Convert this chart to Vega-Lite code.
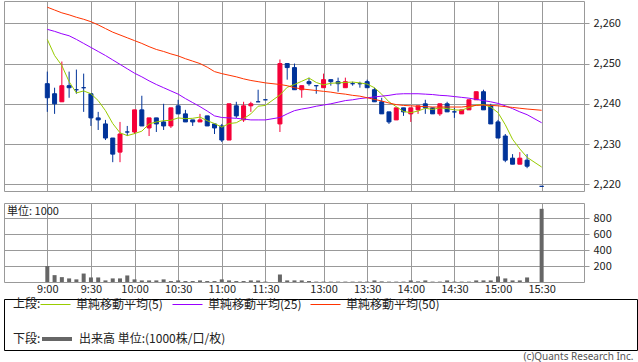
{
  "$schema": "https://vega.github.io/schema/vega-lite/v6.json",
  "padding": {"left": 3, "top": 0, "right": 0, "bottom": 0},
  "background": "white",
  "config": {
    "font": "Noto Sans CJK JP",
    "view": {"stroke": "#999999", "strokeWidth": 1},
    "axis": {"labelFont": "Noto Sans CJK JP", "labelFontSize": 11, "labelColor": "#222222", "gridColor": "#999999", "gridWidth": 1, "gridOpacity": 1, "tickColor": "#999999", "domain": false, "title": null},
    "legend": {"padding": 0, "labelFont": "Noto Sans CJK JP", "titleFont": "Noto Sans CJK JP", "labelFontSize": 12, "titleFontSize": 12, "titleFontWeight": "normal", "labelColor": "#222222", "titleColor": "#222222"}
  },
  "datasets": {
    "bars": [
      {"i":0,"t":"9:00","o":2245,"h":2248,"l":2238,"c":2241.5,"v":200,"m5":2256,"m25":2258.5,"m50":2264},
      {"i":1,"t":"9:05","o":2242.5,"h":2244,"l":2237.5,"c":2240,"v":86,"m5":2252,"m25":2258.0,"m50":2263.3},
      {"i":2,"t":"9:10","o":2240.5,"h":2250.5,"l":2240.5,"c":2244.5,"v":61,"m5":2249.5,"m25":2257.4,"m50":2262.6},
      {"i":3,"t":"9:15","o":2244.5,"h":2248,"l":2241.5,"c":2244,"v":45,"m5":2245.5,"m25":2256.9,"m50":2262.1},
      {"i":4,"t":"9:20","o":2243.5,"h":2248.5,"l":2242.5,"c":2243.5,"v":33,"m5":2242.7,"m25":2256.0,"m50":2261.5},
      {"i":5,"t":"9:25","o":2244,"h":2247.5,"l":2238,"c":2244,"v":106,"m5":2243.2,"m25":2255.0,"m50":2261.0},
      {"i":6,"t":"9:30","o":2242.5,"h":2242.5,"l":2234.5,"c":2236.5,"v":57,"m5":2242.5,"m25":2254.0,"m50":2260.4},
      {"i":7,"t":"9:35","o":2236.5,"h":2238,"l":2233.5,"c":2236,"v":57,"m5":2240.8,"m25":2253.0,"m50":2259.6},
      {"i":8,"t":"9:40","o":2235,"h":2236,"l":2231,"c":2231.5,"v":20,"m5":2238.3,"m25":2252.0,"m50":2258.7},
      {"i":9,"t":"9:45","o":2231.5,"h":2231.5,"l":2225.5,"c":2227.5,"v":45,"m5":2235.1,"m25":2250.9,"m50":2257.8},
      {"i":10,"t":"9:50","o":2228,"h":2235.5,"l":2225.5,"c":2232.5,"v":45,"m5":2232.8,"m25":2249.8,"m50":2257.1},
      {"i":11,"t":"9:55","o":2233,"h":2234.5,"l":2232,"c":2233,"v":82,"m5":2232.1,"m25":2248.7,"m50":2256.4},
      {"i":12,"t":"10:00","o":2233,"h":2238.5,"l":2232.5,"c":2238.5,"v":33,"m5":2232.6,"m25":2247.6,"m50":2255.7},
      {"i":13,"t":"10:05","o":2238.5,"h":2242,"l":2234.5,"c":2234.5,"v":20,"m5":2233.2,"m25":2246.7,"m50":2255.0},
      {"i":14,"t":"10:10","o":2234,"h":2236.5,"l":2232,"c":2236.5,"v":20,"m5":2235.0,"m25":2245.7,"m50":2254.2},
      {"i":15,"t":"10:15","o":2236.5,"h":2236.5,"l":2233,"c":2235,"v":20,"m5":2235.5,"m25":2244.8,"m50":2253.5},
      {"i":16,"t":"10:20","o":2235.5,"h":2240,"l":2233.5,"c":2234.5,"v":33,"m5":2235.8,"m25":2244.0,"m50":2253.0},
      {"i":17,"t":"10:25","o":2234.5,"h":2239,"l":2234,"c":2239,"v":12,"m5":2235.9,"m25":2243.2,"m50":2252.4},
      {"i":18,"t":"10:30","o":2239.5,"h":2241,"l":2237.5,"c":2237.5,"v":20,"m5":2236.5,"m25":2242.4,"m50":2251.9},
      {"i":19,"t":"10:35","o":2237.5,"h":2238.5,"l":2235.5,"c":2235.5,"v":12,"m5":2236.3,"m25":2241.3,"m50":2251.2},
      {"i":20,"t":"10:40","o":2236,"h":2236,"l":2234.5,"c":2235.5,"v":12,"m5":2236.4,"m25":2240.3,"m50":2250.6},
      {"i":21,"t":"10:45","o":2235.5,"h":2237.5,"l":2235.5,"c":2236,"v":20,"m5":2236.7,"m25":2239.3,"m50":2250.0},
      {"i":22,"t":"10:50","o":2237,"h":2237,"l":2234.5,"c":2234.5,"v":12,"m5":2235.8,"m25":2238.2,"m50":2249.1},
      {"i":23,"t":"10:55","o":2235,"h":2235,"l":2232.5,"c":2234,"v":12,"m5":2235.1,"m25":2237.0,"m50":2248.0},
      {"i":24,"t":"11:00","o":2234.5,"h":2235,"l":2230.5,"c":2231,"v":33,"m5":2234.2,"m25":2236.6,"m50":2247.5},
      {"i":25,"t":"11:05","o":2231,"h":2240,"l":2231,"c":2240,"v":20,"m5":2235.1,"m25":2236.5,"m50":2247.1},
      {"i":26,"t":"11:10","o":2239.5,"h":2240.5,"l":2236.5,"c":2237,"v":12,"m5":2235.3,"m25":2236.4,"m50":2246.7},
      {"i":27,"t":"11:15","o":2236,"h":2240.5,"l":2235.5,"c":2239.5,"v":12,"m5":2236.3,"m25":2236.2,"m50":2246.2},
      {"i":28,"t":"11:20","o":2239.5,"h":2240.5,"l":2238,"c":2240,"v":20,"m5":2237.5,"m25":2236.0,"m50":2245.8},
      {"i":29,"t":"11:25","o":2240.5,"h":2243.5,"l":2240.5,"c":2240.5,"v":20,"m5":2239.4,"m25":2236.0,"m50":2245.5},
      {"i":30,"t":"11:30","o":2241,"h":2241,"l":2241,"c":2241,"v":5,"m5":2239.6,"m25":2236.0,"m50":2245.2},
      {"i":32,"t":"12:30","o":2235,"h":2251,"l":2233,"c":2250,"v":94,"m5":2242.2,"m25":2236.6,"m50":2244.8},
      {"i":33,"t":"12:35","o":2250,"h":2250,"l":2246,"c":2249,"v":20,"m5":2244.1,"m25":2237.5,"m50":2244.5},
      {"i":34,"t":"12:40","o":2249,"h":2250,"l":2243.5,"c":2243.5,"v":20,"m5":2244.8,"m25":2238.3,"m50":2244.0},
      {"i":35,"t":"12:45","o":2243.5,"h":2244.5,"l":2241.5,"c":2244.5,"v":20,"m5":2245.6,"m25":2238.7,"m50":2243.7},
      {"i":36,"t":"12:50","o":2245.5,"h":2246.5,"l":2244.5,"c":2245,"v":12,"m5":2246.4,"m25":2239.0,"m50":2243.5},
      {"i":37,"t":"12:55","o":2244.5,"h":2244.5,"l":2242.5,"c":2244.5,"v":5,"m5":2245.3,"m25":2239.4,"m50":2243.3},
      {"i":38,"t":"13:00","o":2244,"h":2247.5,"l":2244,"c":2246,"v":5,"m5":2244.7,"m25":2239.7,"m50":2243.1},
      {"i":39,"t":"13:05","o":2246,"h":2246,"l":2244.5,"c":2245.5,"v":5,"m5":2245.1,"m25":2240.0,"m50":2242.9},
      {"i":40,"t":"13:10","o":2245.5,"h":2246.5,"l":2243,"c":2245,"v":5,"m5":2245.2,"m25":2240.4,"m50":2242.6},
      {"i":41,"t":"13:15","o":2244,"h":2246.5,"l":2244,"c":2245.5,"v":5,"m5":2245.3,"m25":2240.8,"m50":2242.4},
      {"i":42,"t":"13:20","o":2245,"h":2245.5,"l":2244.5,"c":2245,"v":5,"m5":2245.4,"m25":2241.0,"m50":2242.1},
      {"i":43,"t":"13:25","o":2245,"h":2245.5,"l":2244,"c":2245,"v":5,"m5":2245.2,"m25":2241.3,"m50":2241.9},
      {"i":44,"t":"13:30","o":2245.5,"h":2246,"l":2244,"c":2244,"v":5,"m5":2244.9,"m25":2241.5,"m50":2241.5},
      {"i":45,"t":"13:35","o":2243.5,"h":2244,"l":2240.5,"c":2240.5,"v":20,"m5":2244.0,"m25":2241.7,"m50":2241.1},
      {"i":46,"t":"13:40","o":2240.5,"h":2241.5,"l":2237.5,"c":2237.5,"v":8,"m5":2242.4,"m25":2241.9,"m50":2240.7},
      {"i":47,"t":"13:45","o":2238,"h":2238,"l":2235,"c":2235.5,"v":5,"m5":2240.5,"m25":2242.1,"m50":2240.2},
      {"i":48,"t":"13:50","o":2236,"h":2239,"l":2236,"c":2239,"v":5,"m5":2239.3,"m25":2242.4,"m50":2239.8},
      {"i":49,"t":"13:55","o":2239,"h":2239,"l":2237,"c":2238,"v":5,"m5":2238.1,"m25":2242.5,"m50":2239.6},
      {"i":50,"t":"14:00","o":2237.5,"h":2239,"l":2235.5,"c":2239,"v":20,"m5":2237.8,"m25":2242.5,"m50":2239.5},
      {"i":51,"t":"14:05","o":2238.5,"h":2239.5,"l":2237.5,"c":2239.5,"v":8,"m5":2238.2,"m25":2242.5,"m50":2239.4},
      {"i":52,"t":"14:10","o":2240,"h":2241,"l":2237.5,"c":2239,"v":20,"m5":2238.9,"m25":2242.4,"m50":2239.3},
      {"i":53,"t":"14:15","o":2239,"h":2239,"l":2237.5,"c":2237.5,"v":5,"m5":2238.6,"m25":2242.3,"m50":2239.2},
      {"i":54,"t":"14:20","o":2237.5,"h":2240,"l":2237,"c":2240,"v":5,"m5":2239.0,"m25":2242.1,"m50":2239.2},
      {"i":55,"t":"14:25","o":2240,"h":2240.5,"l":2238,"c":2238,"v":20,"m5":2238.8,"m25":2242.0,"m50":2239.2},
      {"i":56,"t":"14:30","o":2238,"h":2239,"l":2236.5,"c":2238,"v":5,"m5":2238.5,"m25":2241.8,"m50":2239.2},
      {"i":57,"t":"14:35","o":2237.5,"h":2238.5,"l":2237.5,"c":2238.5,"v":5,"m5":2238.4,"m25":2241.6,"m50":2239.2},
      {"i":58,"t":"14:40","o":2238.5,"h":2241,"l":2238.5,"c":2241,"v":5,"m5":2239.1,"m25":2241.4,"m50":2239.4},
      {"i":59,"t":"14:45","o":2241,"h":2243,"l":2241,"c":2243,"v":20,"m5":2239.7,"m25":2241.1,"m50":2239.6},
      {"i":60,"t":"14:50","o":2243,"h":2243.5,"l":2238.5,"c":2238.5,"v":20,"m5":2239.8,"m25":2240.8,"m50":2239.7},
      {"i":61,"t":"14:55","o":2239.5,"h":2240,"l":2235,"c":2235,"v":20,"m5":2239.2,"m25":2240.5,"m50":2239.6},
      {"i":62,"t":"15:00","o":2235.5,"h":2236,"l":2231.5,"c":2231.5,"v":70,"m5":2237.8,"m25":2240.1,"m50":2239.5},
      {"i":63,"t":"15:05","o":2232,"h":2232.5,"l":2225.5,"c":2226,"v":45,"m5":2234.8,"m25":2239.5,"m50":2239.3},
      {"i":64,"t":"15:10","o":2226.5,"h":2227.5,"l":2225,"c":2225,"v":20,"m5":2231.2,"m25":2238.8,"m50":2239.1},
      {"i":65,"t":"15:15","o":2225,"h":2228,"l":2225,"c":2226.5,"v":20,"m5":2228.8,"m25":2238.0,"m50":2238.9},
      {"i":66,"t":"15:20","o":2226,"h":2227.5,"l":2224,"c":2224.5,"v":57,"m5":2226.7,"m25":2237.3,"m50":2238.7},
      {"i":68,"t":"15:30","o":2219.5,"h":2219.5,"l":2219.5,"c":2219.5,"v":917,"m5":2224.3,"m25":2235.3,"m50":2238.4}
    ]
  },
  "title": {"text": "(c)Quants Research Inc.", "orient": "bottom", "anchor": "end", "fontSize": 10, "fontWeight": "normal", "color": "#555555", "font": "Noto Sans", "offset": 1, "dx": -4},
  "spacing": 3,
  "vconcat": [
    {
      "bounds": "flush",
      "spacing": 12,
      "vconcat": [
        {
          "width": 580,
          "height": 190,
          "data": {"name": "bars"},
          "encoding": {
            "x": {"field": "i", "type": "quantitative", "scale": {"domain": [-5.27, 73.14], "nice": false, "zero": false},
                  "axis": {"values": [0, 6, 12, 18, 24, 30, 38, 44, 50, 56, 62, 68], "labels": false, "ticks": false, "domain": false, "grid": true}}
          },
          "layer": [
            {
              "mark": {"type": "rule", "strokeWidth": 1},
              "encoding": {
                "y": {"field": "l", "type": "quantitative", "scale": {"domain": [2218.34, 2265.54], "nice": false, "zero": false},
                      "axis": {"orient": "right", "values": [2220, 2230, 2240, 2250, 2260], "format": ",.0f", "grid": true, "tickSize": 5, "labelPadding": 4}},
                "y2": {"field": "h"},
                "color": {"condition": {"test": "datum.c > datum.o", "value": "#F50038"}, "value": "#003399"}
              }
            },
            {
              "mark": {"type": "bar", "size": 4, "strokeWidth": 1},
              "encoding": {
                "y": {"field": "o", "type": "quantitative"},
                "y2": {"field": "c"},
                "fill": {"condition": {"test": "datum.c > datum.o", "value": "#F50038"}, "value": "#003399"},
                "stroke": {"condition": {"test": "datum.c > datum.o", "value": "#F50038"}, "value": "#003399"}
              }
            },
            {
              "transform": [{"fold": ["m5", "m25", "m50"], "as": ["s", "ma"]}],
              "mark": {"type": "line", "strokeWidth": 1},
              "encoding": {
                "y": {"field": "ma", "type": "quantitative"},
                "stroke": {"field": "s", "type": "nominal",
                  "scale": {"domain": ["m5", "m25", "m50"], "range": ["#99CC00", "#9900FF", "#FF3300"]},
                  "legend": {"title": "上段:", "orient": "none", "legendX": 9, "legendY": 295.5, "direction": "horizontal", "titleOrient": "left", "gridAlign": "each", "symbolType": "M-2,0H2", "symbolSize": 225, "symbolStrokeWidth": 1, "columnPadding": 7, "labelOffset": 12.5, "titlePadding": 6.5,
                    "labelExpr": "datum.label == 'm5' ? '単純移動平均(5)' : datum.label == 'm25' ? '単純移動平均(25)' : '単純移動平均(50)'"}
                }
              }
            }
          ]
        },
        {
          "width": 580,
          "height": 79,
          "data": {"name": "bars"},
          "title": {"text": "単位: 1000", "anchor": "start", "offset": -14, "dx": 3, "fontSize": 11, "fontWeight": "normal", "font": "Noto Sans CJK JP", "color": "#222222"},
          "mark": {"type": "bar", "size": 4},
          "encoding": {
            "x": {"field": "i", "type": "quantitative", "scale": {"domain": [-5.27, 73.14], "nice": false, "zero": false},
                  "axis": {"values": [0, 6, 12, 18, 24, 30, 38, 44, 50, 56, 62, 68], "ticks": false, "domain": false, "grid": true, "labelPadding": 1,
                    "labelExpr": "['9:00','9:30','10:00','10:30','11:00','11:30','13:00','13:30','14:00','14:30','15:00','15:30'][indexof([0,6,12,18,24,30,38,44,50,56,62,68], datum.value)]"}},
            "y": {"field": "v", "type": "quantitative", "scale": {"domain": [0, 990], "nice": false},
                  "axis": {"orient": "right", "values": [200, 400, 600, 800], "grid": true, "tickSize": 5, "labelPadding": 4}},
            "fill": {"datum": "出来高 単位:(1000株/口/枚)", "type": "nominal", "scale": {"range": ["#666666"]},
              "legend": {"title": "下段:", "orient": "none", "legendX": 9, "legendY": 328.5, "direction": "horizontal", "titleOrient": "left", "symbolType": "M-2,0H2", "symbolSize": 225, "symbolStrokeColor": "#666666", "symbolStrokeWidth": 4, "labelOffset": 12.5, "titlePadding": 6.5}}
          }
        }
      ]
    },
    {
      "width": 633,
      "height": 51,
      "view": {"stroke": "#000000"},
      "data": {"values": [{"a": 0}]},
      "mark": {"type": "text"},
      "encoding": {"text": {"value": ""}}
    }
  ]
}
